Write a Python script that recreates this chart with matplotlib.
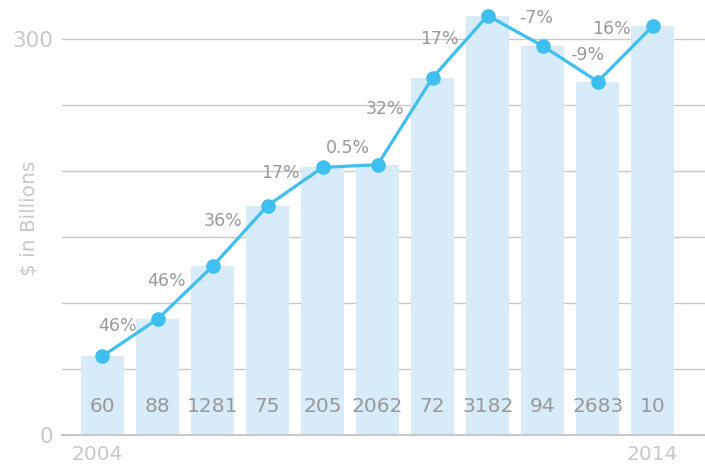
import matplotlib
matplotlib.use("Agg")
import matplotlib.pyplot as plt

years = [2004, 2005, 2006, 2007, 2008, 2009, 2010, 2011, 2012, 2013, 2014]
values = [60, 88, 128, 174, 203, 205, 271, 318, 295, 268, 310]
bar_labels = ["60", "88", "1281", "75", "205", "2062", "72", "3182", "94", "2683", "10"]
pct_labels = ["46%", "46%", "36%", "17%", "0.5%", "32%", "17%", "-7%", "-9%", "16%"]
ytick_vals = [0, 300]
grid_vals = [50, 100, 150, 200, 250, 300]

# label offsets in pixels (dx, dy) from point i+1
pct_offsets = [(-40, -7), (-46, -15), (-45, -15), (-42, -6), (-30, 17),
               (-48, -31), (-48, -23), (-7, 28), (-11, 27), (-41, -3)]

BAR = "#d7ebf8"
LINE = "#3ebff0"
TXT = "#999999"
LIGHT = "#c8c8c8"
GRID = "#c8c8c8"

plt.rcParams['font.family'] = ['DejaVu Sans']

fig = plt.figure(figsize=(7.05, 4.69), dpi=100)
ax = fig.add_axes([62/705, 33.7/469, (705-62)/705, 435.3/469])

x = list(range(len(years)))
for g in grid_vals:
    ax.axhline(g, color=GRID, lw=1.0, zorder=0)
ax.axhline(0, color=GRID, lw=1.5, zorder=2, clip_on=False)

ax.bar(x, values, width=0.78, color=BAR, zorder=1)
ax.plot(x, values, color=LINE, lw=2.3, marker='o', markersize=9.5, zorder=3)

for i, lab in enumerate(bar_labels):
    ax.text(i, 22, lab, ha='center', va='center', fontsize=14.5, color=TXT, zorder=4)

for i, (lab, off) in enumerate(zip(pct_labels, pct_offsets)):
    ax.annotate(lab, xy=(i + 1, values[i + 1]), xytext=off, textcoords='offset pixels',
                ha='center', va='center', fontsize=12.5, color=TXT, zorder=4)

ax.set_xlim(-0.736, 10.95)
ax.set_ylim(0, 329.8)
ax.set_yticks(ytick_vals)
ax.set_yticklabels([str(v) for v in ytick_vals], fontsize=15.5, color=LIGHT)
ax.set_xticks([-0.1, 10])
ax.set_xticklabels([str(years[0]), str(years[-1])], fontsize=14.5, color=LIGHT)
ax.tick_params(axis='both', length=0)
ax.tick_params(axis='y', pad=6)
ax.tick_params(axis='x', pad=7)
for s in ax.spines.values():
    s.set_visible(False)

fig.text(30/705, 1 - 218/469, "$ in Billions", rotation=90, ha='center', va='center',
         fontsize=14.5, color=LIGHT)

fig.savefig("out.png", dpi=100)
